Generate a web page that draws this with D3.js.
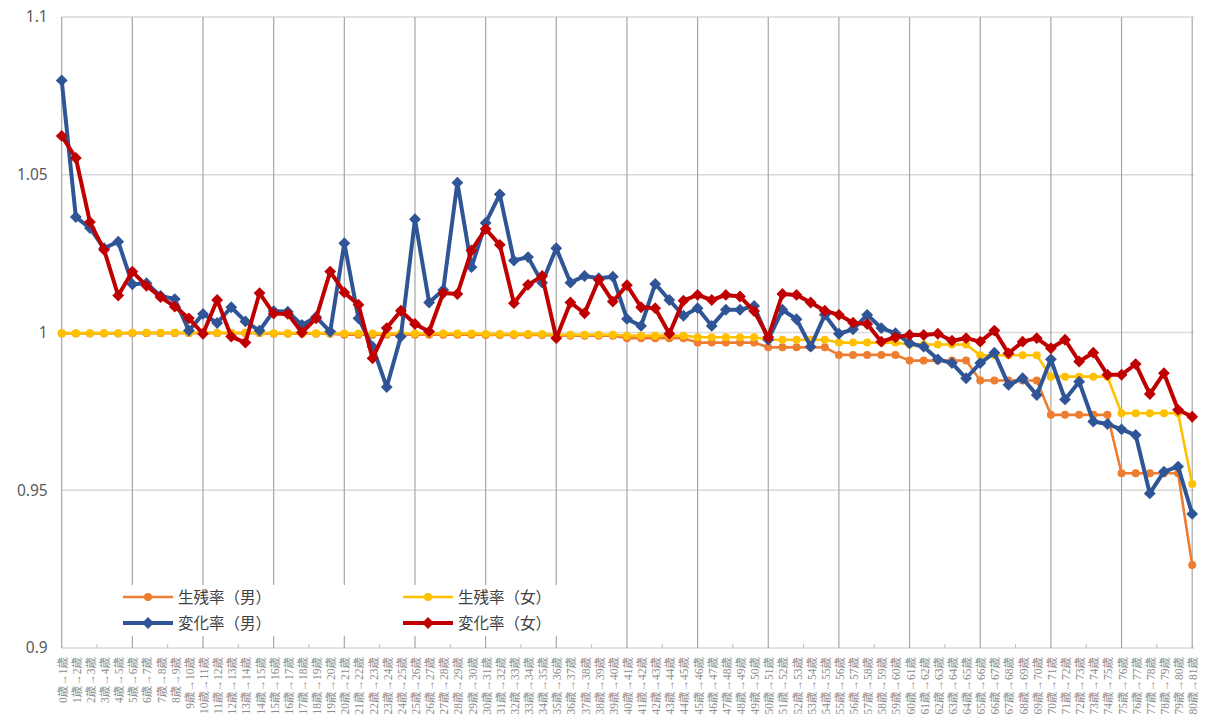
<!DOCTYPE html>
<html><head><meta charset="utf-8">
<script src="https://cdn.jsdelivr.net/npm/d3@7"></script>
<style>
html,body{margin:0;padding:0;background:#fff;}
svg{display:block;}
</style>
</head><body>
<svg id="chart" width="1210" height="717"></svg>
<script>
const categories = [
"0歳→1歳","1歳→2歳","2歳→3歳","3歳→4歳","4歳→5歳","5歳→6歳","6歳→7歳","7歳→8歳","8歳→9歳","9歳→10歳",
"10歳→11歳","11歳→12歳","12歳→13歳","13歳→14歳","14歳→15歳","15歳→16歳","16歳→17歳","17歳→18歳","18歳→19歳","19歳→20歳",
"20歳→21歳","21歳→22歳","22歳→23歳","23歳→24歳","24歳→25歳","25歳→26歳","26歳→27歳","27歳→28歳","28歳→29歳","29歳→30歳",
"30歳→31歳","31歳→32歳","32歳→33歳","33歳→34歳","34歳→35歳","35歳→36歳","36歳→37歳","37歳→38歳","38歳→39歳","39歳→40歳",
"40歳→41歳","41歳→42歳","42歳→43歳","43歳→44歳","44歳→45歳","45歳→46歳","46歳→47歳","47歳→48歳","48歳→49歳","49歳→50歳",
"50歳→51歳","51歳→52歳","52歳→53歳","53歳→54歳","54歳→55歳","55歳→56歳","56歳→57歳","57歳→58歳","58歳→59歳","59歳→60歳",
"60歳→61歳","61歳→62歳","62歳→63歳","63歳→64歳","64歳→65歳","65歳→66歳","66歳→67歳","67歳→68歳","68歳→69歳","69歳→70歳",
"70歳→71歳","71歳→72歳","72歳→73歳","73歳→74歳","74歳→75歳","75歳→76歳","76歳→77歳","77歳→78歳","78歳→79歳","79歳→80歳",
"80歳→81歳"];

// 生残率（男）
const survivalMale = [
0.9997,0.9997,0.9997,0.9997,0.9997, 0.9998,0.9998,0.9998,0.9998,0.9998,
0.9998,0.9998,0.9998,0.9998,0.9998, 0.9996,0.9996,0.9996,0.9996,0.9996,
0.9993,0.9993,0.9993,0.9993,0.9993, 0.9993,0.9993,0.9993,0.9993,0.9993,
0.9992,0.9992,0.9992,0.9992,0.9992, 0.9990,0.9990,0.9990,0.9990,0.9990,
0.9982,0.9982,0.9982,0.9982,0.9982, 0.9968,0.9968,0.9968,0.9968,0.9968,
0.9953,0.9953,0.9953,0.9953,0.9953, 0.9929,0.9929,0.9929,0.9929,0.9929,
0.9911,0.9911,0.9911,0.9911,0.9911, 0.9848,0.9848,0.9848,0.9848,0.9848,
0.9739,0.9739,0.9739,0.9739,0.9739, 0.9554,0.9554,0.9554,0.9554,0.9554,
0.9263];

// 生残率（女）
const survivalFemale = [
0.9998,0.9998,0.9998,0.9998,0.9998, 0.9999,0.9999,0.9999,0.9999,0.9999,
0.9999,0.9999,0.9999,0.9999,0.9999, 0.9998,0.9998,0.9998,0.9998,0.9998,
0.9997,0.9997,0.9997,0.9997,0.9997, 0.9997,0.9997,0.9997,0.9997,0.9997,
0.9995,0.9995,0.9995,0.9995,0.9995, 0.9993,0.9993,0.9993,0.9993,0.9993,
0.9990,0.9990,0.9990,0.9990,0.9990, 0.9985,0.9985,0.9985,0.9985,0.9985,
0.9977,0.9977,0.9977,0.9977,0.9977, 0.9968,0.9968,0.9968,0.9968,0.9968,
0.9962,0.9962,0.9962,0.9962,0.9962, 0.9928,0.9928,0.9928,0.9928,0.9928,
0.9860,0.9860,0.9860,0.9860,0.9860, 0.9744,0.9744,0.9744,0.9744,0.9744,
0.9520];

// 変化率（男）
const changeMale = [
1.0799,1.0366,1.0331,1.0267,1.0288,1.0153,1.0156,1.0116,1.0106,1.0006,
1.0059,1.0030,1.0080,1.0035,1.0006,1.0068,1.0066,1.0024,1.0049,1.0003,
1.0283,1.0045,0.9955,0.9827,0.9987,1.0359,1.0095,1.0135,1.0475,1.0207,
1.0347,1.0438,1.0228,1.0239,1.0158,1.0267,1.0158,1.0179,1.0172,1.0177,
1.0043,1.0021,1.0154,1.0103,1.0053,1.0077,1.0021,1.0072,1.0072,1.0084,
0.9977,1.0072,1.0042,0.9955,1.0056,0.9996,1.0010,1.0056,1.0014,0.9998,
0.9966,0.9955,0.9915,0.9903,0.9855,0.9903,0.9936,0.9834,0.9855,0.9802,
0.9915,0.9788,0.9844,0.9718,0.9710,0.9693,0.9675,0.9490,0.9559,0.9575,
0.9425];

// 変化率（女）
const changeFemale = [
1.0623,1.0553,1.0350,1.0262,1.0117,1.0193,1.0148,1.0112,1.0082,1.0045,
0.9996,1.0103,0.9987,0.9968,1.0125,1.0060,1.0059,1.0000,1.0045,1.0193,
1.0127,1.0088,0.9918,1.0014,1.0069,1.0027,1.0003,1.0125,1.0122,1.0260,
1.0328,1.0278,1.0093,1.0151,1.0179,0.9982,1.0095,1.0061,1.0167,1.0098,
1.0150,1.0080,1.0077,0.9996,1.0101,1.0119,1.0103,1.0119,1.0114,1.0068,
0.9985,1.0122,1.0119,1.0095,1.0069,1.0056,1.0031,1.0027,0.9971,0.9985,
0.9992,0.9992,0.9996,0.9974,0.9982,0.9971,1.0006,0.9934,0.9971,0.9982,
0.9950,0.9977,0.9908,0.9936,0.9866,0.9866,0.9900,0.9805,0.9871,0.9755,
0.9733];

const yTicks = [0.9, 0.95, 1, 1.05, 1.1];
const yTickLabels = ["0.9", "0.95", "1", "1.05", "1.1"];

const seriesNames = ["生残率（男）", "生残率（女）", "変化率（男）", "変化率（女）"];

const series = [
  {name: seriesNames[0], values: survivalMale, color: "#ED7D31", width: 2.6, marker: "circle", size: 50},
  {name: seriesNames[1], values: survivalFemale, color: "#FFC000", width: 2.6, marker: "circle", size: 50},
  {name: seriesNames[2], values: changeMale, color: "#2F5597", width: 4, marker: "diamond", size: 70},
  {name: seriesNames[3], values: changeFemale, color: "#C00000", width: 4, marker: "diamond", size: 70}
];

const svg = d3.select("#chart");
const pLeft = 61.7, pRight = 1192.2, pTop = 17, pBottom = 648;

const x = d3.scalePoint().domain(categories).range([pLeft, pRight]);
const y = d3.scaleLinear().domain([0.9, 1.1]).range([pBottom, pTop]);

// horizontal gridlines
svg.append("g").selectAll("line").data(yTicks).join("line")
  .attr("x1", pLeft).attr("x2", pRight + 2)
  .attr("y1", d => y(d)).attr("y2", d => y(d))
  .attr("stroke", "#d9d9d9").attr("stroke-width", 1.3);

// vertical gridlines every 5 categories
const vIdx = d3.range(0, categories.length, 5);
svg.append("g").selectAll("line").data(vIdx).join("line")
  .attr("x1", i => x(categories[i])).attr("x2", i => x(categories[i]))
  .attr("y1", pTop).attr("y2", pBottom)
  .attr("stroke", "#a6a6a6").attr("stroke-width", 1.2);

// minor ticks at midpoints
const step = x.step();
svg.append("g").selectAll("line").data(vIdx.slice(0, -1)).join("line")
  .attr("x1", i => x(categories[i]) + step * 2.5).attr("x2", i => x(categories[i]) + step * 2.5)
  .attr("y1", pBottom - 4).attr("y2", pBottom)
  .attr("stroke", "#bfbfbf").attr("stroke-width", 1);

// y axis labels
const yAxis = d3.axisLeft(y).tickValues(yTicks)
  .tickFormat(d => yTickLabels[yTicks.indexOf(d)]).tickSize(0).tickPadding(14);
const yg = svg.append("g").attr("transform", `translate(${pLeft},0)`).call(yAxis);
yg.select(".domain").remove();
yg.selectAll("text").attr("font-family", "'Noto Sans', 'Open Sans', sans-serif")
  .attr("font-size", 15.5).attr("fill", "#595959");

// x axis labels
const xAxis = d3.axisBottom(x).tickSize(0).tickPadding(0);
const xg = svg.append("g").attr("transform", `translate(0,${pBottom})`).call(xAxis);
xg.select(".domain").remove();
xg.selectAll("text")
  .attr("font-family", "'Liberation Serif', 'Noto Sans CJK JP', serif")
  .attr("font-size", 11.5).attr("fill", "#8c8c8c")
  .attr("text-anchor", "end").attr("dy", null).attr("y", 0)
  .attr("transform", "translate(4.5,9) rotate(-90)");

// legend background (hides gridlines)
const legend = svg.append("g");
legend.append("rect").attr("x", 116).attr("y", 585).attr("width", 462).attr("height", 51).attr("fill", "#fff");

// series
const line = d3.line().x((d, i) => x(categories[i])).y(d => y(d));
series.forEach(s => {
  const g = svg.append("g");
  g.append("path").datum(s.values).attr("d", line)
    .attr("fill", "none").attr("stroke", s.color).attr("stroke-width", s.width)
    .attr("stroke-linejoin", "round");
  const sym = d3.symbol().type(s.marker === "circle" ? d3.symbolCircle : d3.symbolSquare).size(s.size);
  g.selectAll("path.m").data(s.values).join("path").attr("class", "m")
    .attr("d", sym())
    .attr("transform", (d, i) => `translate(${x(categories[i])},${y(d)})` + (s.marker === "diamond" ? " rotate(45)" : ""))
    .attr("fill", s.color);
});

// legend entries
const legendPos = [
  {x: 123, y: 597}, {x: 403, y: 597}, {x: 123, y: 623}, {x: 403, y: 623}
];
series.forEach((s, k) => {
  const p = legendPos[k];
  legend.append("line").attr("x1", p.x).attr("x2", p.x + 50).attr("y1", p.y).attr("y2", p.y)
    .attr("stroke", s.color).attr("stroke-width", s.width);
  const sym = d3.symbol().type(s.marker === "circle" ? d3.symbolCircle : d3.symbolSquare).size(s.size);
  legend.append("path").attr("d", sym())
    .attr("transform", `translate(${p.x + 25},${p.y})` + (s.marker === "diamond" ? " rotate(45)" : ""))
    .attr("fill", s.color);
  legend.append("text").attr("x", p.x + 55).attr("y", p.y).attr("dy", "0.36em")
    .attr("font-family", "'Noto Sans CJK JP', sans-serif").attr("font-size", 15.5)
    .attr("fill", "#404040").text(s.name);
});
</script>
</body></html>
